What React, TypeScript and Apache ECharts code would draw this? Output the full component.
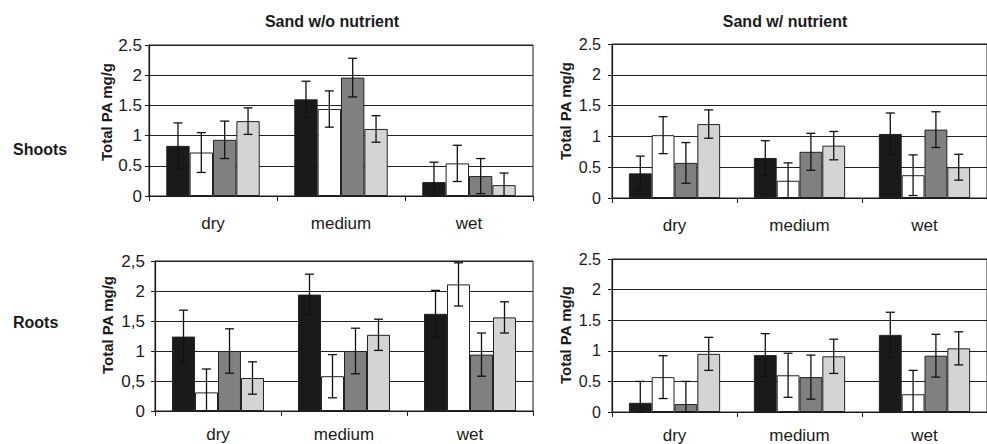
import React, { useEffect, useRef } from "react";
import * as echarts from "echarts";

const categories = ["dry", "medium", "wet"];
const seriesNames = ["Treatment A", "Treatment B", "Treatment C", "Treatment D"];
const barColors = ["#1a1a1a", "#ffffff", "#808080", "#d4d4d4"];
const yTicksDot = ["0", "0.5", "1", "1.5", "2", "2.5"];

// Shoots, sand w/o nutrient (means per series over categories)
const shootsWithoutMeans = [
  [0.83, 1.6, 0.23],
  [0.72, 1.44, 0.54],
  [0.93, 1.96, 0.33],
  [1.24, 1.11, 0.18],
];
const shootsWithoutErr = [
  [0.38, 0.3, 0.33],
  [0.33, 0.3, 0.3],
  [0.31, 0.32, 0.29],
  [0.22, 0.22, 0.2],
];
// Shoots, sand w/ nutrient
const shootsWithMeans = [
  [0.4, 0.65, 1.04],
  [1.02, 0.28, 0.37],
  [0.57, 0.75, 1.11],
  [1.2, 0.85, 0.5],
];
const shootsWithErr = [
  [0.28, 0.28, 0.34],
  [0.3, 0.29, 0.33],
  [0.33, 0.3, 0.29],
  [0.23, 0.23, 0.21],
];
// Roots, sand w/o nutrient
const rootsWithoutMeans = [
  [1.24, 1.94, 1.62],
  [0.31, 0.58, 2.11],
  [1.0, 1.0, 0.94],
  [0.55, 1.27, 1.56],
];
const rootsWithoutErr = [
  [0.44, 0.34, 0.39],
  [0.39, 0.36, 0.36],
  [0.37, 0.38, 0.36],
  [0.27, 0.26, 0.26],
];
// Roots, sand w/ nutrient
const rootsWithMeans = [
  [0.15, 0.93, 1.26],
  [0.57, 0.6, 0.29],
  [0.13, 0.57, 0.92],
  [0.95, 0.91, 1.04],
];
const rootsWithErr = [
  [0.35, 0.35, 0.37],
  [0.35, 0.36, 0.39],
  [0.37, 0.36, 0.35],
  [0.27, 0.28, 0.27],
];

const columnTitles = ["Sand w/o nutrient", "Sand w/ nutrient"];
const rowTitles = ["Shoots", "Roots"];
const yAxisTitle = "Total PA mg/g";

const FONT = "'Liberation Sans', Arial, Helvetica, sans-serif";
const GAP_PCT = 27;

export default function App() {
  const ref = useRef<HTMLDivElement>(null);

  useEffect(() => {
    if (!ref.current) return;
    const chart = echarts.init(ref.current, undefined, { renderer: "svg" });

    const panels = [
      { means: shootsWithoutMeans, errs: shootsWithoutErr, grid: { left: 149, top: 45, width: 384, height: 151 }, comma: false, yFont: 17, yMargin: 7, xMargin: 19 },
      { means: shootsWithMeans, errs: shootsWithErr, grid: { left: 612, top: 44, width: 376, height: 154 }, comma: false, yFont: 16, yMargin: 11, xMargin: 19 },
      { means: rootsWithoutMeans, errs: rootsWithoutErr, grid: { left: 155, top: 261, width: 378, height: 150 }, comma: true, yFont: 17, yMargin: 10, xMargin: 15 },
      { means: rootsWithMeans, errs: rootsWithErr, grid: { left: 612, top: 259, width: 376, height: 154 }, comma: false, yFont: 16, yMargin: 11, xMargin: 15 },
    ];

    const grids: any[] = [];
    const xAxes: any[] = [];
    const yAxes: any[] = [];
    const series: any[] = [];

    panels.forEach((p, pi) => {
      grids.push({
        ...p.grid,
        show: true,
        borderColor: "#1a1a1a",
        borderWidth: 1,
        backgroundColor: "transparent",
        containLabel: false,
      });
      xAxes.push({
        type: "category",
        gridIndex: pi,
        data: categories,
        axisLine: { show: true, lineStyle: { color: "#1a1a1a", width: 1.2 } },
        axisTick: { show: true, length: 5, lineStyle: { color: "#1a1a1a" } },
        axisLabel: { color: "#1a1a1a", fontSize: 17, fontFamily: FONT, margin: p.xMargin },
        splitLine: { show: false },
      });
      yAxes.push({
        type: "value",
        gridIndex: pi,
        min: 0,
        max: 2.5,
        interval: 0.5,
        axisLine: { show: true, lineStyle: { color: "#1a1a1a", width: 1.2 } },
        axisTick: { show: true, length: 4, lineStyle: { color: "#1a1a1a" } },
        axisLabel: {
          color: "#1a1a1a",
          fontSize: p.yFont,
          fontFamily: FONT,
          margin: p.yMargin,
          formatter: (v: number) => {
            const s = yTicksDot[Math.round(v / 0.5)] ?? String(v);
            return p.comma ? s.replace(".", ",") : s;
          },
        },
        splitLine: { show: true, lineStyle: { color: "#222", width: 1 } },
      });

      p.means.forEach((vals, si) => {
        series.push({
          type: "bar",
          name: seriesNames[si],
          xAxisIndex: pi,
          yAxisIndex: pi,
          data: vals,
          barGap: "0%",
          barCategoryGap: GAP_PCT + "%",
          itemStyle: { color: barColors[si], borderColor: "#222", borderWidth: 1 },
          z: 2,
        });
      });

      const errData: number[][] = [];
      p.means.forEach((vals, si) => {
        vals.forEach((v, ci) => {
          const e = p.errs[si][ci];
          errData.push([ci, si, Math.max(0, v - e), v + e]);
        });
      });

      series.push({
        type: "custom",
        xAxisIndex: pi,
        yAxisIndex: pi,
        z: 10,
        silent: true,
        encode: { x: 0, y: [2, 3] },
        data: errData,
        renderItem: (params: any, api: any) => {
          const c = api.value(0);
          const s = api.value(1);
          const lo = api.value(2);
          const hi = api.value(3);
          const band = api.size([1, 0])[0];
          const bw = (band * (1 - GAP_PCT / 100)) / 4;
          const cx = api.coord([c, 0])[0] + (s - 1.5) * bw;
          const yLo = api.coord([c, lo])[1];
          const yHi = api.coord([c, hi])[1];
          const cap = 4.5;
          const st = { stroke: "#111", lineWidth: 1.3 };
          return {
            type: "group",
            children: [
              { type: "line", shape: { x1: cx, y1: yLo, x2: cx, y2: yHi }, style: st },
              { type: "line", shape: { x1: cx - cap, y1: yHi, x2: cx + cap, y2: yHi }, style: st },
              { type: "line", shape: { x1: cx - cap, y1: yLo, x2: cx + cap, y2: yLo }, style: st },
            ],
          };
        },
      });
    });

    const nameCenters = [
      { x: 106, y: 112 },
      { x: 565, y: 111 },
      { x: 107, y: 325 },
      { x: 565, y: 335 },
    ];

    const graphics: any[] = [
      {
        type: "text",
        x: 332,
        y: 21,
        style: { text: columnTitles[0], font: `bold 16px ${FONT}`, fill: "#1a1a1a", textAlign: "center", textVerticalAlign: "middle" },
      },
      {
        type: "text",
        x: 785,
        y: 21,
        style: { text: columnTitles[1], font: `bold 16px ${FONT}`, fill: "#1a1a1a", textAlign: "center", textVerticalAlign: "middle" },
      },
      {
        type: "text",
        x: 13,
        y: 149,
        style: { text: rowTitles[0], font: `bold 16px ${FONT}`, fill: "#1a1a1a", textAlign: "left", textVerticalAlign: "middle" },
      },
      {
        type: "text",
        x: 13,
        y: 322,
        style: { text: rowTitles[1], font: `bold 16px ${FONT}`, fill: "#1a1a1a", textAlign: "left", textVerticalAlign: "middle" },
      },
      ...nameCenters.map((c) => ({
        type: "text",
        x: c.x,
        y: c.y,
        rotation: Math.PI / 2,
        style: { text: yAxisTitle, font: `bold 15px ${FONT}`, fill: "#1a1a1a", textAlign: "center", textVerticalAlign: "middle" },
      })),
    ];

    chart.setOption({
      animation: false,
      backgroundColor: "#ffffff",
      textStyle: { fontFamily: FONT },
      grid: grids,
      xAxis: xAxes,
      yAxis: yAxes,
      series,
      graphic: graphics,
    });

    return () => chart.dispose();
  }, []);

  return <div ref={ref} style={{ position: "absolute", left: 0, top: 0, width: 987, height: 444 }} />;
}
